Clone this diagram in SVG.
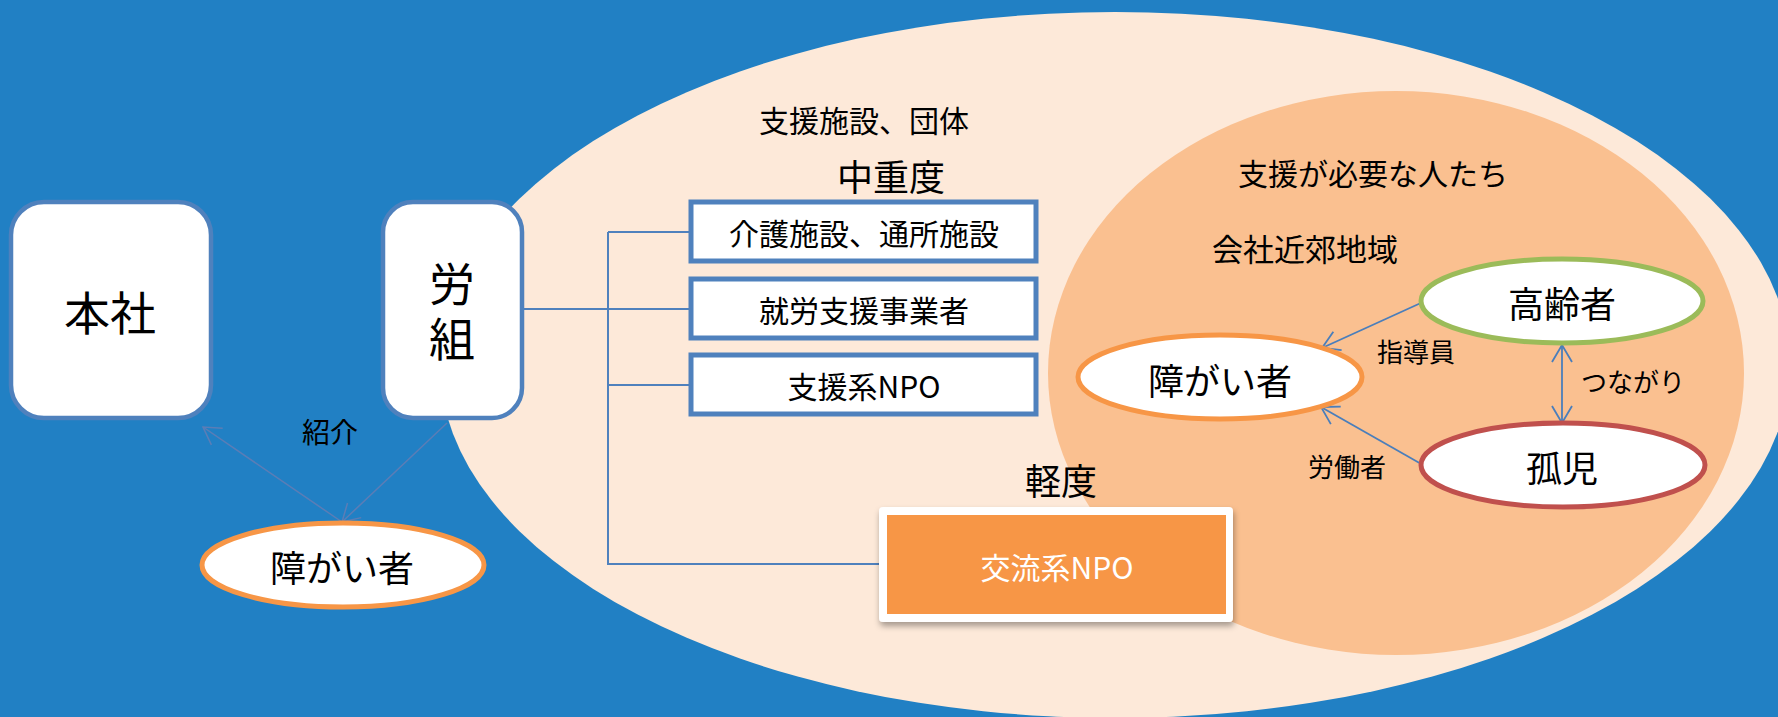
<svg xmlns="http://www.w3.org/2000/svg" width="1778" height="717" viewBox="0 0 1778 717">
<defs>
<style>
text{font-family:"Noto Sans CJK JP","Noto Sans",sans-serif;fill:#000;text-anchor:middle;dominant-baseline:central}
.box{fill:#fff;stroke:#4F81BD;stroke-width:5}
.rbox{fill:#fff;stroke:#4F81BD;stroke-width:4.5}
.conn{fill:none;stroke:#4F81BD;stroke-width:2}
.arr{fill:none;stroke:#4A7EBB;stroke-width:1.8}
.arrL{fill:none;stroke:#5B7DB6;stroke-width:1.5}
</style>
<marker id="ah" viewBox="-20 -12 22 24" refX="0" refY="0" markerWidth="22" markerHeight="24" markerUnits="userSpaceOnUse" orient="auto-start-reverse">
<path d="M-17,-10 L0,0 L-17,10" fill="none" stroke="#4A7EBB" stroke-width="1.8"/>
</marker>
<marker id="ahL" viewBox="-20 -12 22 24" refX="0" refY="0" markerWidth="22" markerHeight="24" markerUnits="userSpaceOnUse" orient="auto-start-reverse">
<path d="M-17,-10 L0,0 L-17,10" fill="none" stroke="#5B7DB6" stroke-width="1.5"/>
</marker>
<filter id="sh" x="-10%" y="-10%" width="130%" height="140%">
<feDropShadow dx="1" dy="4" stdDeviation="3" flood-color="#000" flood-opacity="0.35"/>
</filter>
</defs>
<rect x="0" y="0" width="1778" height="717" fill="#2180C4"/>
<ellipse id="outer-area" cx="1115" cy="365" rx="675" ry="353" fill="#FDE9D9"/>
<ellipse id="inner-area" cx="1396" cy="373" rx="348" ry="282" fill="#FAC090"/>

<g id="connectors">
<path class="conn" d="M524,309 H608 M608,232 V564 H883 M608,232 H689 M608,309 H689 M608,385 H689"/>
<line class="arr" x1="1423" y1="302" x2="1322" y2="348" marker-end="url(#ah)"/>
<line class="arr" x1="1423" y1="465" x2="1321" y2="407" marker-end="url(#ah)"/>
<line class="arr" x1="1562" y1="345" x2="1562" y2="423" marker-start="url(#ah)" marker-end="url(#ah)"/>
<line class="arrL" x1="447" y1="423" x2="342" y2="522" marker-end="url(#ahL)"/>
<line class="arrL" x1="342" y1="522" x2="203" y2="427" marker-end="url(#ahL)"/>
<text x="330" y="431" font-size="28">紹介</text>
<text x="1416" y="350" font-size="26">指導員</text>
<text x="1347" y="465" font-size="26">労働者</text>
<text x="1633" y="380" font-size="26">つながり</text>
</g>

<g id="labels">
<text x="864" y="119" font-size="30">支援施設、団体</text>
<text x="891" y="175" font-size="36">中重度</text>
<text x="1061" y="479" font-size="36">軽度</text>
<text x="1373" y="172" font-size="30">支援が必要な人たち</text>
<text x="1305" y="247" font-size="31">会社近郊地域</text>
</g>

<g id="honsha">
<rect class="rbox" x="11" y="202" width="200" height="216" rx="33"/>
<text x="110" y="310" font-size="46">本社</text>
</g>
<g id="roso">
<rect class="rbox" x="383" y="202" width="139" height="216" rx="30"/>
<text x="452" y="316" font-size="46" writing-mode="vertical-rl" letter-spacing="9">労組</text>
</g>
<g id="shogaisha-left">
<ellipse cx="343" cy="565" rx="141" ry="42" fill="#fff" stroke="#F79646" stroke-width="5"/>
<text x="342" y="566" font-size="36">障がい者</text>
</g>
<g id="kaigo">
<rect class="box" x="691" y="202" width="345" height="59"/>
<text x="864" y="232" font-size="30">介護施設、通所施設</text>
</g>
<g id="shuro">
<rect class="box" x="691" y="279" width="345" height="59"/>
<text x="864" y="309" font-size="30">就労支援事業者</text>
</g>
<g id="shien-npo">
<rect class="box" x="691" y="355" width="345" height="59"/>
<text x="864" y="385" font-size="30">支援系NPO</text>
</g>
<g id="koryu-npo">
<rect x="879" y="507" width="354" height="115" rx="4" fill="#fff" filter="url(#sh)"/>
<rect x="887" y="515" width="339" height="99" fill="#F79646"/>
<text x="1057" y="566" font-size="30" style="fill:#fff">交流系NPO</text>
</g>
<g id="koreisha">
<ellipse cx="1562" cy="301" rx="141" ry="42" fill="#fff" stroke="#9BBB59" stroke-width="5"/>
<text x="1562" y="302" font-size="36">高齢者</text>
</g>
<g id="shogaisha-right">
<ellipse cx="1220" cy="377" rx="142" ry="42" fill="#fff" stroke="#F79646" stroke-width="5"/>
<text x="1220" y="379" font-size="36">障がい者</text>
</g>
<g id="koji">
<ellipse cx="1563" cy="465" rx="142" ry="42" fill="#fff" stroke="#C0504D" stroke-width="5"/>
<text x="1562" y="466" font-size="36">孤児</text>
</g>
</svg>
